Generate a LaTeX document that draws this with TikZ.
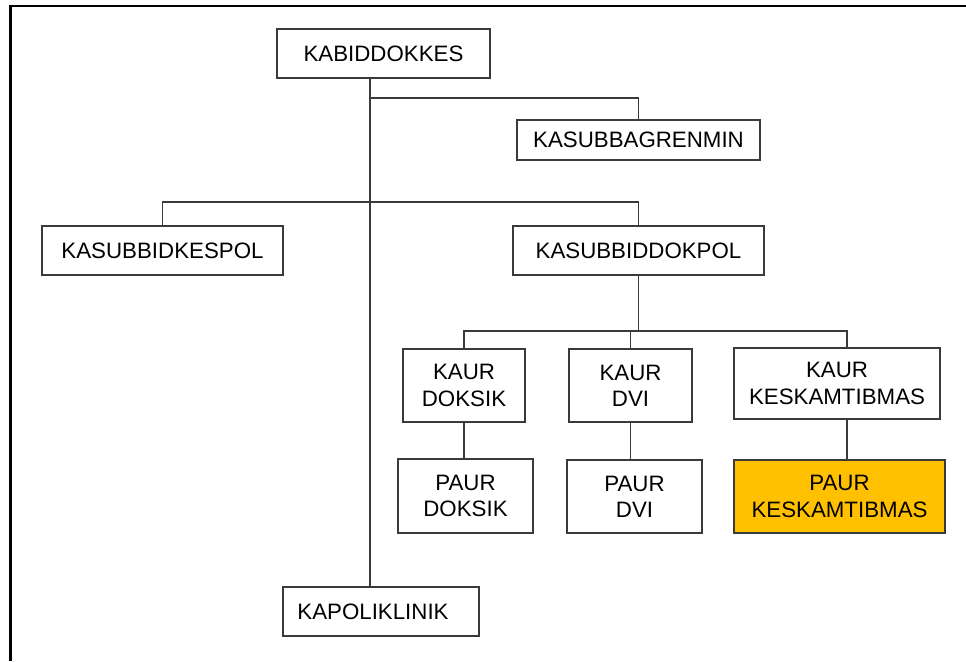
\documentclass[tikz,border=0pt]{standalone}
\usepackage{fontspec}
\setmainfont{Liberation Sans}
\definecolor{boxline}{HTML}{3A3A3A}
\definecolor{gold}{HTML}{FFC000}
\begin{document}
\begin{tikzpicture}[x=1pt,y=-1pt,
  unit/.style={draw=boxline,line width=1.1pt,rectangle,inner sep=0pt,
    align=center,text=black,font=\fontsize{22.3}{26.3}\selectfont},
  link/.style={draw=boxline,line width=1.1pt},
  frameline/.style={draw=black,line width=2.4pt}]
\useasboundingbox (0,0) rectangle (966,661);
% open frame: top and left edges only
\draw[frameline] (10.5,661) -- (10.5,5.8) -- (966,5.8);

% units
\node[unit,minimum width=213pt,minimum height=49pt] (kab) at (383.5,53.5) {KABIDDOKKES};
\node[unit,minimum width=243pt,minimum height=40pt] (ren) at (638.5,140) {KASUBBAGRENMIN};
\node[unit,minimum width=241pt,minimum height=49pt] (kes) at (162.5,250.5) {KASUBBIDKESPOL};
\node[unit,minimum width=251pt,minimum height=49pt] (dok) at (638.5,250.5) {KASUBBIDDOKPOL};
\node[unit,minimum width=122pt,minimum height=73pt] (kd) at (464,385.5) {KAUR\\DOKSIK};
\node[unit,minimum width=135pt,minimum height=74pt] (pd) at (465.5,496) {PAUR\\DOKSIK};
\node[unit,minimum width=123pt,minimum height=73pt] (kv) at (630.5,385.5) {KAUR\\DVI};
\node[unit,minimum width=135pt,minimum height=73pt] (pv) at (634.5,496.5) {PAUR\\DVI};
\node[unit,minimum width=206pt,minimum height=71pt] (kk) at (837,383.5) {KAUR\\KESKAMTIBMAS};
\node[unit,fill=gold,minimum width=211pt,minimum height=73pt] (pk) at (839.5,496.5) {PAUR\\KESKAMTIBMAS};
\node[unit,minimum width=196pt,minimum height=49pt] (kap) at (381,611.5) {KAPOLIKLINIK\hspace{16pt}};

% routing points
\coordinate (trunk) at (370,98);
\coordinate (busA) at (400,202);
\coordinate (busB) at (550,331);
\coordinate (kx) at (847,331);

% connectors
\draw[link] (kab.south -| trunk) -- (kap.north -| trunk);
\draw[link] (trunk) -| (ren.north);
\draw[link] (kes.north) |- (busA) -| (dok.north);
\draw[link] (dok.south) -- (dok.south |- busB);
\draw[link] (kd.north) |- (busB) -| (kk.north -| kx);
\draw[link] (kv.north) -- (kv.north |- busB);
\draw[link] (kd.south) -- (kd.south |- pd.north);
\draw[link] (kv.south) -- (kv.south |- pv.north);
\draw[link] (kk.south -| kx) -- (pk.north -| kx);
\end{tikzpicture}
\end{document}
